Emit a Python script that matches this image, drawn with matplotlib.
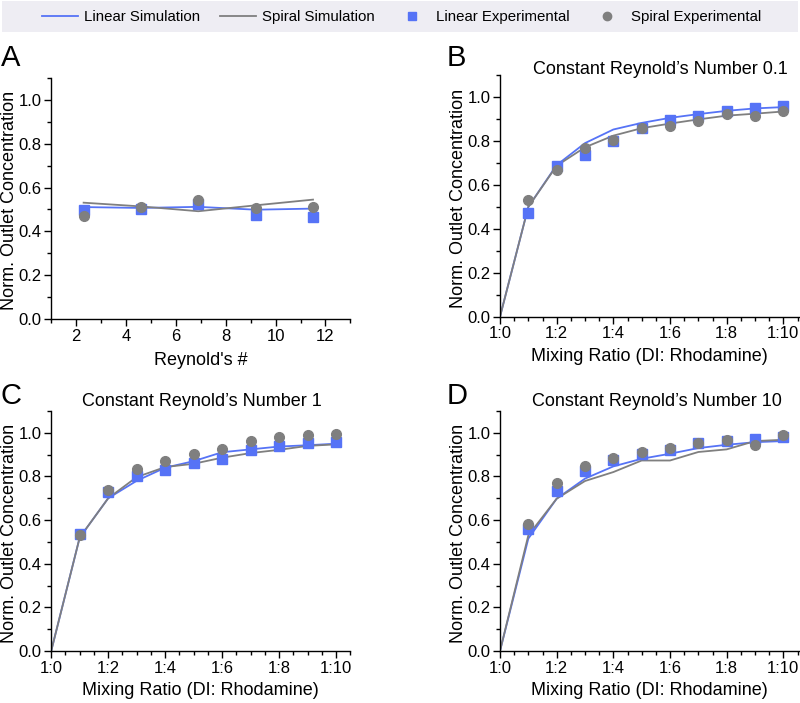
import matplotlib
matplotlib.use("Agg")
import matplotlib.pyplot as plt
from matplotlib.lines import Line2D
from matplotlib.patches import Rectangle
from matplotlib.ticker import MultipleLocator

plt.rcParams["font.family"] = ["Liberation Sans", "DejaVu Sans"]

BLUE = "#5673f6"
GRAY = "#7f7f7f"

# ── data ─────────────────────────────────────────────
# panel A: vs Reynold's number
re_x = [2.3, 4.6, 6.9, 9.2, 11.5]
a_lin_sim = [0.511, 0.507, 0.512, 0.499, 0.504]
a_spi_sim = [0.531, 0.514, 0.492, 0.519, 0.545]
a_lin_exp = [0.499, 0.500, 0.527, 0.473, 0.464]
a_spi_exp = [0.470, 0.511, 0.542, 0.507, 0.513]

# panels B-D: vs mixing ratio 1:0 .. 1:10
ratio_x = list(range(11))
ratio_labels = ["1:0", "1:2", "1:4", "1:6", "1:8", "1:10"]

b_lin_sim = [0.0, 0.50, 0.690, 0.790, 0.852, 0.882, 0.905, 0.922, 0.937, 0.948, 0.954]
b_spi_sim = [0.0, 0.50, 0.687, 0.771, 0.824, 0.858, 0.879, 0.898, 0.915, 0.924, 0.934]
b_lin_exp = [0.470, 0.687, 0.736, 0.800, 0.858, 0.893, 0.913, 0.934, 0.951, 0.960]
b_spi_exp = [0.530, 0.669, 0.766, 0.802, 0.858, 0.870, 0.889, 0.922, 0.913, 0.934]

c_lin_sim = [0.0, 0.52, 0.700, 0.780, 0.840, 0.870, 0.911, 0.924, 0.937, 0.943, 0.950]
c_spi_sim = [0.0, 0.52, 0.700, 0.797, 0.843, 0.858, 0.886, 0.907, 0.922, 0.940, 0.947]
c_lin_exp = [0.538, 0.727, 0.803, 0.828, 0.863, 0.881, 0.919, 0.940, 0.952, 0.957]
c_spi_exp = [0.532, 0.736, 0.835, 0.870, 0.904, 0.927, 0.962, 0.983, 0.989, 0.995]

d_lin_sim = [0.0, 0.515, 0.698, 0.790, 0.846, 0.881, 0.904, 0.930, 0.945, 0.957, 0.962]
d_spi_sim = [0.0, 0.530, 0.698, 0.779, 0.820, 0.873, 0.873, 0.912, 0.924, 0.962, 0.968]
d_lin_exp = [0.558, 0.733, 0.825, 0.877, 0.904, 0.919, 0.953, 0.962, 0.973, 0.980]
d_spi_exp = [0.581, 0.770, 0.848, 0.886, 0.910, 0.931, 0.954, 0.965, 0.945, 0.988]


def _panel(ax, x_sim, lin_sim, spi_sim, x_exp, lin_exp, spi_exp):
    ax.plot(x_sim, lin_sim, color=BLUE, lw=1.3, zorder=2)
    ax.plot(x_sim, spi_sim, color=GRAY, lw=1.3, zorder=2)
    ax.plot(x_exp, lin_exp, ls="none", marker="s", ms=6.5, color=BLUE, zorder=3)
    ax.plot(x_exp, spi_exp, ls="none", marker="o", ms=7, color=GRAY, zorder=4)
    ax.set_ylim(0, 1.1)
    ax.yaxis.set_minor_locator(MultipleLocator(0.1))
    ax.set_yticks([0, 0.2, 0.4, 0.6, 0.8, 1.0])
    ax.set_yticklabels(["0.0", "0.2", "0.4", "0.6", "0.8", "1.0"])
    for s in ("top", "right"):
        ax.spines[s].set_visible(False)
    for s in ("left", "bottom"):
        ax.spines[s].set_linewidth(1.0)
    ax.tick_params(which="major", direction="out", length=5, width=1.0,
                   labelsize=12, pad=2)
    ax.tick_params(which="minor", direction="out", length=3, width=1.0)
    ax.set_ylabel("Norm. Outlet Concentration", fontsize=13, va="center")
    ax.yaxis.set_label_coords(-0.140, 0.49)


fig = plt.figure(figsize=(8, 7.03), dpi=100)

axA = fig.add_axes([0.064, 0.5462, 0.374, 0.3428])
axB = fig.add_axes([0.625, 0.5495, 0.374, 0.3438])
axC = fig.add_axes([0.064, 0.074, 0.374, 0.3414])
axD = fig.add_axes([0.625, 0.074, 0.374, 0.3414])

_panel(axA, re_x, a_lin_sim, a_spi_sim, re_x, a_lin_exp, a_spi_exp)
axA.set_xlim(1, 13)
axA.set_xticks([2, 4, 6, 8, 10, 12])
axA.xaxis.set_minor_locator(MultipleLocator(1))
axA.set_xlabel("Reynold's #", fontsize=13, va="top")
axA.xaxis.set_label_coords(0.5, -0.135)

for ax, ls, ss, le, se, xmax in [
    (axB, b_lin_sim, b_spi_sim, b_lin_exp, b_spi_exp, 10.56),
    (axC, c_lin_sim, c_spi_sim, c_lin_exp, c_spi_exp, 10.5),
    (axD, d_lin_sim, d_spi_sim, d_lin_exp, d_spi_exp, 10.56),
]:
    _panel(ax, ratio_x, ls, ss, ratio_x[1:], le, se)
    ax.set_xlim(0, xmax)
    ax.set_xticks(ratio_x[::2])
    ax.set_xticklabels(ratio_labels)
    ax.xaxis.set_minor_locator(MultipleLocator(0.5))
    ax.set_xlabel("Mixing Ratio (DI: Rhodamine)", fontsize=13, va="top")
    ax.xaxis.set_label_coords(0.5, -0.13)

# titles and panel letters
fig.text(660 / 800, 1 - 70 / 703, "Constant Reynold\u2019s Number 0.1",
         ha="center", va="center", fontsize=13)
fig.text(202 / 800, 1 - 401 / 703, "Constant Reynold\u2019s Number 1",
         ha="center", va="center", fontsize=13)
fig.text(657 / 800, 1 - 401 / 703, "Constant Reynold\u2019s Number 10",
         ha="center", va="center", fontsize=13)
for lab, x, y in [("A", 1, 58), ("B", 447, 58), ("C", 1, 396), ("D", 447, 396)]:
    fig.text(x / 800, 1 - y / 703, lab, ha="left", va="center", fontsize=21)

# legend band across the top
fig.patches.append(Rectangle((2 / 800, 1 - 32 / 703), 796 / 800, 31 / 703,
                             transform=fig.transFigure, facecolor="#eeedf3",
                             edgecolor="none", zorder=0))
handles = [
    Line2D([], [], color=BLUE, lw=1.3),
    Line2D([], [], color=GRAY, lw=1.3),
    Line2D([], [], ls="none", marker="s", ms=6, color=BLUE),
    Line2D([], [], ls="none", marker="o", ms=6, color=GRAY),
]
fig.legend(handles, ["Linear Simulation", "Spiral Simulation",
                     "Linear Experimental", "Spiral Experimental"],
           loc="center", bbox_to_anchor=(402 / 800, 1 - 17 / 703), ncol=4,
           frameon=False, fontsize=10.8, handlelength=2.4, handletextpad=0.4,
           columnspacing=1.3)

fig.savefig("out.png", dpi=100, facecolor="white")
